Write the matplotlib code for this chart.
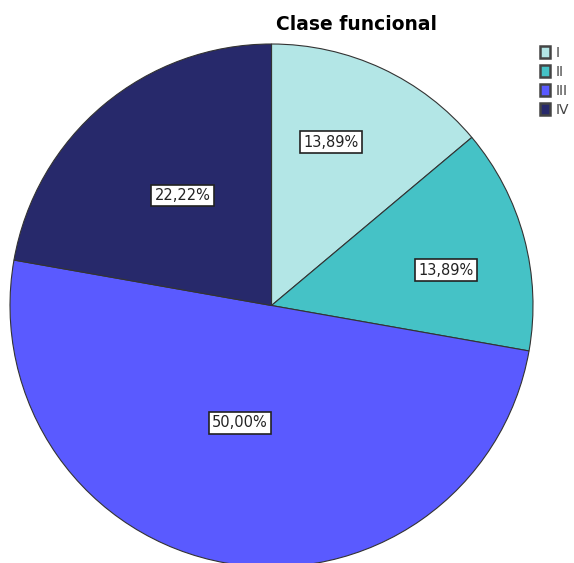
import numpy as np
import matplotlib.pyplot as plt
from matplotlib.patches import Patch

categorias = ['I', 'II', 'III', 'IV']
porcentajes = [13.89, 13.89, 50.00, 22.22]
etiquetas = ['13,89%', '13,89%', '50,00%', '22,22%']
colores = ['#b3e6e6', '#45c2c6', '#5a5aff', '#27296b']

# posicion de las etiquetas: distancia al centro y desvio del angulo medio
dist_etiquetas = [0.665, 0.68, 0.465, 0.54]
desvio_angulo = [5, -3.5, -5, -1]

fig = plt.figure(figsize=(5.74, 5.63), dpi=100)
ax = fig.add_axes([10 / 574, -4 / 563, 523 / 574, 523 / 563])

wedges, textos = ax.pie(porcentajes, startangle=90, counterclock=False,
                        colors=colores, radius=1,
                        wedgeprops=dict(edgecolor='#333333', linewidth=0.8))
ax.set_xlim(-1, 1)
ax.set_ylim(-1, 1)
ax.set_aspect('equal')
ax.axis('off')

for w, txt, d, da in zip(wedges, etiquetas, dist_etiquetas, desvio_angulo):
    ang = np.deg2rad((w.theta1 + w.theta2) / 2 + da)
    ax.text(d * np.cos(ang), d * np.sin(ang), txt, ha='center', va='center',
            fontsize=10.5, color='#222222',
            bbox=dict(boxstyle='square,pad=0.22', facecolor='white',
                      edgecolor='#222222', linewidth=1.2))

fig.text(357 / 574, 1 - 25 / 563, 'Clase funcional', ha='center', va='center',
         fontsize=13.5, fontweight='bold')

handles = [Patch(facecolor=c, edgecolor='#444444', linewidth=1.8) for c in colores]
fig.legend(handles, categorias, loc='upper left', bbox_to_anchor=(540 / 574, 1 - 46 / 563),
           frameon=False, fontsize=10, labelcolor='#444444',
           handlelength=0.75, handleheight=0.95, handletextpad=0.4,
           labelspacing=0.35, borderaxespad=0, borderpad=0)

fig.savefig('out.png', dpi=100)
